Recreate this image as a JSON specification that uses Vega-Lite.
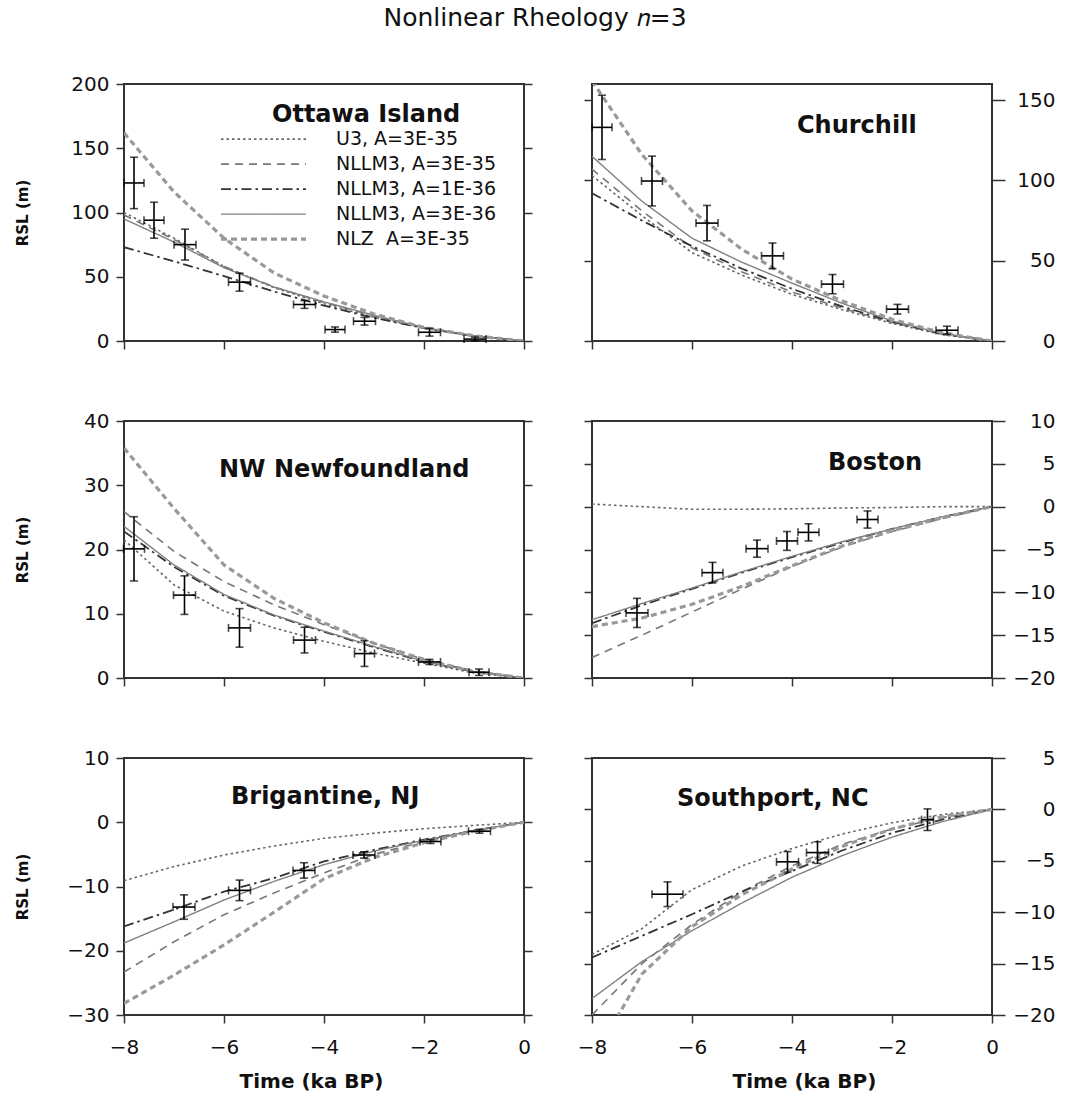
{
  "$schema": "https://vega.github.io/schema/vega-lite/v6.json",
  "padding": {"left": 14, "top": 6, "right": 17, "bottom": 4},
  "background": "white",
  "title": {"text": "Nonlinear Rheology \ud835\udc5b=3", "fontSize": 25, "font": "DejaVu Sans", "fontWeight": "normal", "anchor": "middle", "offset": 22, "baseline": "alphabetic", "color": "#111"},
  "columns": 2,
  "bounds": "flush",
  "spacing": {"row": 80, "column": 68},
  "resolve": {"scale": {"color": "independent", "strokeDash": "independent", "strokeWidth": "independent"}},
  "config": {
    "view": {"stroke": "#333", "strokeWidth": 2},
    "axis": {"domain": false, "grid": false, "tickColor": "#333", "tickWidth": 1.5, "labelColor": "#111", "titleColor": "#111", "labelFont": "DejaVu Sans", "titleFont": "DejaVu Sans"},
    "axisX": {"labelFlush": false, "labelFontSize": 20, "labelPadding": 14, "titleFontSize": 20, "titleFontWeight": "bold", "titlePadding": 14, "tickSize": 8},
    "axisLeft": {"labelFontSize": 20, "labelPadding": 7, "tickSize": 8, "minExtent": 60, "maxExtent": 60},
    "axisRight": {"labelFontSize": 20, "labelAlign": "right", "labelPadding": 50, "tickSize": 13}
  },
  "datasets": {
    "lines": [
      {"site":"O","model":"U3","t":-8,"rsl":100},{"site":"O","model":"U3","t":-7,"rsl":80},{"site":"O","model":"U3","t":-6,"rsl":58},{"site":"O","model":"U3","t":-5,"rsl":41.5},{"site":"O","model":"U3","t":-4,"rsl":29},{"site":"O","model":"U3","t":-3,"rsl":18.5},{"site":"O","model":"U3","t":-2,"rsl":10},{"site":"O","model":"U3","t":-1,"rsl":3.8},{"site":"O","model":"U3","t":0,"rsl":0},
      {"site":"O","model":"NL35","t":-8,"rsl":98},{"site":"O","model":"NL35","t":-7,"rsl":79},{"site":"O","model":"NL35","t":-6,"rsl":58},{"site":"O","model":"NL35","t":-5,"rsl":42},{"site":"O","model":"NL35","t":-4,"rsl":30},{"site":"O","model":"NL35","t":-3,"rsl":19.5},{"site":"O","model":"NL35","t":-2,"rsl":10.5},{"site":"O","model":"NL35","t":-1,"rsl":4},{"site":"O","model":"NL35","t":0,"rsl":0},
      {"site":"O","model":"NL136","t":-8,"rsl":73},{"site":"O","model":"NL136","t":-7,"rsl":62},{"site":"O","model":"NL136","t":-6,"rsl":50.5},{"site":"O","model":"NL136","t":-5,"rsl":38.5},{"site":"O","model":"NL136","t":-4,"rsl":27.5},{"site":"O","model":"NL136","t":-3,"rsl":18},{"site":"O","model":"NL136","t":-2,"rsl":10},{"site":"O","model":"NL136","t":-1,"rsl":3.8},{"site":"O","model":"NL136","t":0,"rsl":0},
      {"site":"O","model":"NL336","t":-8,"rsl":95},{"site":"O","model":"NL336","t":-7,"rsl":77},{"site":"O","model":"NL336","t":-6,"rsl":57},{"site":"O","model":"NL336","t":-5,"rsl":42},{"site":"O","model":"NL336","t":-4,"rsl":30.5},{"site":"O","model":"NL336","t":-3,"rsl":20},{"site":"O","model":"NL336","t":-2,"rsl":10.5},{"site":"O","model":"NL336","t":-1,"rsl":4},{"site":"O","model":"NL336","t":0,"rsl":0},
      {"site":"O","model":"NLZ","t":-8,"rsl":162},{"site":"O","model":"NLZ","t":-7,"rsl":116},{"site":"O","model":"NLZ","t":-6,"rsl":80},{"site":"O","model":"NLZ","t":-5,"rsl":53},{"site":"O","model":"NLZ","t":-4,"rsl":35},{"site":"O","model":"NLZ","t":-3,"rsl":21},{"site":"O","model":"NLZ","t":-2,"rsl":10.5},{"site":"O","model":"NLZ","t":-1,"rsl":4},{"site":"O","model":"NLZ","t":0,"rsl":0},

      {"site":"C","model":"U3","t":-8,"rsl":103},{"site":"C","model":"U3","t":-7,"rsl":78},{"site":"C","model":"U3","t":-6,"rsl":55},{"site":"C","model":"U3","t":-5,"rsl":41},{"site":"C","model":"U3","t":-4,"rsl":29},{"site":"C","model":"U3","t":-3,"rsl":19.5},{"site":"C","model":"U3","t":-2,"rsl":11},{"site":"C","model":"U3","t":-1,"rsl":4},{"site":"C","model":"U3","t":0,"rsl":0},
      {"site":"C","model":"NL35","t":-8,"rsl":107},{"site":"C","model":"NL35","t":-7,"rsl":81},{"site":"C","model":"NL35","t":-6,"rsl":58},{"site":"C","model":"NL35","t":-5,"rsl":43},{"site":"C","model":"NL35","t":-4,"rsl":30.5},{"site":"C","model":"NL35","t":-3,"rsl":20.5},{"site":"C","model":"NL35","t":-2,"rsl":11.5},{"site":"C","model":"NL35","t":-1,"rsl":4.3},{"site":"C","model":"NL35","t":0,"rsl":0},
      {"site":"C","model":"NL136","t":-8,"rsl":92},{"site":"C","model":"NL136","t":-7,"rsl":75},{"site":"C","model":"NL136","t":-6,"rsl":59},{"site":"C","model":"NL136","t":-5,"rsl":45},{"site":"C","model":"NL136","t":-4,"rsl":32.5},{"site":"C","model":"NL136","t":-3,"rsl":21.5},{"site":"C","model":"NL136","t":-2,"rsl":12},{"site":"C","model":"NL136","t":-1,"rsl":4.5},{"site":"C","model":"NL136","t":0,"rsl":0},
      {"site":"C","model":"NL336","t":-8,"rsl":115},{"site":"C","model":"NL336","t":-7,"rsl":87},{"site":"C","model":"NL336","t":-6,"rsl":64},{"site":"C","model":"NL336","t":-5,"rsl":49},{"site":"C","model":"NL336","t":-4,"rsl":36},{"site":"C","model":"NL336","t":-3,"rsl":23.5},{"site":"C","model":"NL336","t":-2,"rsl":12.5},{"site":"C","model":"NL336","t":-1,"rsl":4.8},{"site":"C","model":"NL336","t":0,"rsl":0},
      {"site":"C","model":"NLZ","t":-8,"rsl":162},{"site":"C","model":"NLZ","t":-7,"rsl":116},{"site":"C","model":"NLZ","t":-6,"rsl":81},{"site":"C","model":"NLZ","t":-5,"rsl":57},{"site":"C","model":"NLZ","t":-4,"rsl":38.5},{"site":"C","model":"NLZ","t":-3,"rsl":25},{"site":"C","model":"NLZ","t":-2,"rsl":13.5},{"site":"C","model":"NLZ","t":-1,"rsl":5.2},{"site":"C","model":"NLZ","t":0,"rsl":0},

      {"site":"N","model":"U3","t":-8,"rsl":21.5},{"site":"N","model":"U3","t":-7,"rsl":14.5},{"site":"N","model":"U3","t":-6,"rsl":10.4},{"site":"N","model":"U3","t":-5,"rsl":7.8},{"site":"N","model":"U3","t":-4,"rsl":5.7},{"site":"N","model":"U3","t":-3,"rsl":3.9},{"site":"N","model":"U3","t":-2,"rsl":2.3},{"site":"N","model":"U3","t":-1,"rsl":0.8},{"site":"N","model":"U3","t":0,"rsl":0},
      {"site":"N","model":"NL35","t":-8,"rsl":25.9},{"site":"N","model":"NL35","t":-7,"rsl":19.7},{"site":"N","model":"NL35","t":-6,"rsl":15},{"site":"N","model":"NL35","t":-5,"rsl":11.4},{"site":"N","model":"NL35","t":-4,"rsl":8.3},{"site":"N","model":"NL35","t":-3,"rsl":5.4},{"site":"N","model":"NL35","t":-2,"rsl":2.9},{"site":"N","model":"NL35","t":-1,"rsl":1.1},{"site":"N","model":"NL35","t":0,"rsl":0},
      {"site":"N","model":"NL136","t":-8,"rsl":22.8},{"site":"N","model":"NL136","t":-7,"rsl":17.3},{"site":"N","model":"NL136","t":-6,"rsl":12.8},{"site":"N","model":"NL136","t":-5,"rsl":9.7},{"site":"N","model":"NL136","t":-4,"rsl":7.2},{"site":"N","model":"NL136","t":-3,"rsl":4.8},{"site":"N","model":"NL136","t":-2,"rsl":2.5},{"site":"N","model":"NL136","t":-1,"rsl":1},{"site":"N","model":"NL136","t":0,"rsl":0},
      {"site":"N","model":"NL336","t":-8,"rsl":23.6},{"site":"N","model":"NL336","t":-7,"rsl":17.6},{"site":"N","model":"NL336","t":-6,"rsl":13},{"site":"N","model":"NL336","t":-5,"rsl":9.8},{"site":"N","model":"NL336","t":-4,"rsl":7.3},{"site":"N","model":"NL336","t":-3,"rsl":4.9},{"site":"N","model":"NL336","t":-2,"rsl":2.6},{"site":"N","model":"NL336","t":-1,"rsl":1},{"site":"N","model":"NL336","t":0,"rsl":0},
      {"site":"N","model":"NLZ","t":-8,"rsl":35.8},{"site":"N","model":"NLZ","t":-7,"rsl":26.4},{"site":"N","model":"NLZ","t":-6,"rsl":17.6},{"site":"N","model":"NLZ","t":-5,"rsl":12.4},{"site":"N","model":"NLZ","t":-4,"rsl":8.6},{"site":"N","model":"NLZ","t":-3,"rsl":5.4},{"site":"N","model":"NLZ","t":-2,"rsl":2.9},{"site":"N","model":"NLZ","t":-1,"rsl":1},{"site":"N","model":"NLZ","t":0,"rsl":0},

      {"site":"B","model":"U3","t":-8,"rsl":0.3},{"site":"B","model":"U3","t":-7,"rsl":0},{"site":"B","model":"U3","t":-6,"rsl":-0.3},{"site":"B","model":"U3","t":-5,"rsl":-0.3},{"site":"B","model":"U3","t":-4,"rsl":-0.25},{"site":"B","model":"U3","t":-3,"rsl":-0.15},{"site":"B","model":"U3","t":-2,"rsl":-0.1},{"site":"B","model":"U3","t":-1,"rsl":0},{"site":"B","model":"U3","t":0,"rsl":0},
      {"site":"B","model":"NL35","t":-8,"rsl":-17.6},{"site":"B","model":"NL35","t":-7,"rsl":-15},{"site":"B","model":"NL35","t":-6,"rsl":-12.3},{"site":"B","model":"NL35","t":-5,"rsl":-9.6},{"site":"B","model":"NL35","t":-4,"rsl":-7},{"site":"B","model":"NL35","t":-3,"rsl":-4.7},{"site":"B","model":"NL35","t":-2,"rsl":-2.9},{"site":"B","model":"NL35","t":-1,"rsl":-1.4},{"site":"B","model":"NL35","t":0,"rsl":0},
      {"site":"B","model":"NL136","t":-8,"rsl":-13.6},{"site":"B","model":"NL136","t":-7,"rsl":-11.5},{"site":"B","model":"NL136","t":-6,"rsl":-9.6},{"site":"B","model":"NL136","t":-5,"rsl":-7.7},{"site":"B","model":"NL136","t":-4,"rsl":-5.9},{"site":"B","model":"NL136","t":-3,"rsl":-4.2},{"site":"B","model":"NL136","t":-2,"rsl":-2.6},{"site":"B","model":"NL136","t":-1,"rsl":-1.2},{"site":"B","model":"NL136","t":0,"rsl":0},
      {"site":"B","model":"NL336","t":-8,"rsl":-13.2},{"site":"B","model":"NL336","t":-7,"rsl":-11.3},{"site":"B","model":"NL336","t":-6,"rsl":-9.5},{"site":"B","model":"NL336","t":-5,"rsl":-7.6},{"site":"B","model":"NL336","t":-4,"rsl":-5.8},{"site":"B","model":"NL336","t":-3,"rsl":-4.1},{"site":"B","model":"NL336","t":-2,"rsl":-2.6},{"site":"B","model":"NL336","t":-1,"rsl":-1.2},{"site":"B","model":"NL336","t":0,"rsl":0},
      {"site":"B","model":"NLZ","t":-8,"rsl":-14},{"site":"B","model":"NLZ","t":-7,"rsl":-13},{"site":"B","model":"NLZ","t":-6,"rsl":-11.4},{"site":"B","model":"NLZ","t":-5,"rsl":-9.3},{"site":"B","model":"NLZ","t":-4,"rsl":-6.9},{"site":"B","model":"NLZ","t":-3,"rsl":-4.6},{"site":"B","model":"NLZ","t":-2,"rsl":-2.8},{"site":"B","model":"NLZ","t":-1,"rsl":-1.3},{"site":"B","model":"NLZ","t":0,"rsl":0},

      {"site":"R","model":"U3","t":-8,"rsl":-9.1},{"site":"R","model":"U3","t":-7,"rsl":-6.9},{"site":"R","model":"U3","t":-6,"rsl":-5.1},{"site":"R","model":"U3","t":-5,"rsl":-3.7},{"site":"R","model":"U3","t":-4,"rsl":-2.5},{"site":"R","model":"U3","t":-3,"rsl":-1.7},{"site":"R","model":"U3","t":-2,"rsl":-1},{"site":"R","model":"U3","t":-1,"rsl":-0.5},{"site":"R","model":"U3","t":0,"rsl":0},
      {"site":"R","model":"NL35","t":-8,"rsl":-23.3},{"site":"R","model":"NL35","t":-7,"rsl":-18.6},{"site":"R","model":"NL35","t":-6,"rsl":-14.4},{"site":"R","model":"NL35","t":-5,"rsl":-11},{"site":"R","model":"NL35","t":-4,"rsl":-7.9},{"site":"R","model":"NL35","t":-3,"rsl":-5},{"site":"R","model":"NL35","t":-2,"rsl":-3},{"site":"R","model":"NL35","t":-1,"rsl":-1.3},{"site":"R","model":"NL35","t":0,"rsl":0},
      {"site":"R","model":"NL136","t":-8,"rsl":-16.2},{"site":"R","model":"NL136","t":-7,"rsl":-13.6},{"site":"R","model":"NL136","t":-6,"rsl":-10.8},{"site":"R","model":"NL136","t":-5,"rsl":-8.7},{"site":"R","model":"NL136","t":-4,"rsl":-6.1},{"site":"R","model":"NL136","t":-3,"rsl":-4.3},{"site":"R","model":"NL136","t":-2,"rsl":-2.7},{"site":"R","model":"NL136","t":-1,"rsl":-1.3},{"site":"R","model":"NL136","t":0,"rsl":0},
      {"site":"R","model":"NL336","t":-8,"rsl":-18.8},{"site":"R","model":"NL336","t":-7,"rsl":-15.5},{"site":"R","model":"NL336","t":-6,"rsl":-12.1},{"site":"R","model":"NL336","t":-5,"rsl":-9.2},{"site":"R","model":"NL336","t":-4,"rsl":-6.6},{"site":"R","model":"NL336","t":-3,"rsl":-4.5},{"site":"R","model":"NL336","t":-2,"rsl":-2.8},{"site":"R","model":"NL336","t":-1,"rsl":-1.3},{"site":"R","model":"NL336","t":0,"rsl":0},
      {"site":"R","model":"NLZ","t":-8,"rsl":-28.2},{"site":"R","model":"NLZ","t":-7,"rsl":-23.8},{"site":"R","model":"NLZ","t":-6,"rsl":-19.1},{"site":"R","model":"NLZ","t":-5,"rsl":-14},{"site":"R","model":"NLZ","t":-4,"rsl":-8.8},{"site":"R","model":"NLZ","t":-3,"rsl":-5.5},{"site":"R","model":"NLZ","t":-2,"rsl":-3.2},{"site":"R","model":"NLZ","t":-1,"rsl":-1.4},{"site":"R","model":"NLZ","t":0,"rsl":0},

      {"site":"S","model":"U3","t":-8,"rsl":-14.1},{"site":"S","model":"U3","t":-7,"rsl":-11.6},{"site":"S","model":"U3","t":-6,"rsl":-7.8},{"site":"S","model":"U3","t":-5,"rsl":-5.5},{"site":"S","model":"U3","t":-4,"rsl":-3.8},{"site":"S","model":"U3","t":-3,"rsl":-2.4},{"site":"S","model":"U3","t":-2,"rsl":-1.3},{"site":"S","model":"U3","t":-1,"rsl":-0.5},{"site":"S","model":"U3","t":0,"rsl":0},
      {"site":"S","model":"NL35","t":-8,"rsl":-20},{"site":"S","model":"NL35","t":-7,"rsl":-15},{"site":"S","model":"NL35","t":-6,"rsl":-11.2},{"site":"S","model":"NL35","t":-5,"rsl":-8},{"site":"S","model":"NL35","t":-4,"rsl":-5.5},{"site":"S","model":"NL35","t":-3,"rsl":-3.4},{"site":"S","model":"NL35","t":-2,"rsl":-1.9},{"site":"S","model":"NL35","t":-1,"rsl":-0.8},{"site":"S","model":"NL35","t":0,"rsl":0},
      {"site":"S","model":"NL136","t":-8,"rsl":-14.4},{"site":"S","model":"NL136","t":-7,"rsl":-12.3},{"site":"S","model":"NL136","t":-6,"rsl":-10.2},{"site":"S","model":"NL136","t":-5,"rsl":-8},{"site":"S","model":"NL136","t":-4,"rsl":-6},{"site":"S","model":"NL136","t":-3,"rsl":-4},{"site":"S","model":"NL136","t":-2,"rsl":-2.3},{"site":"S","model":"NL136","t":-1,"rsl":-1},{"site":"S","model":"NL136","t":0,"rsl":0},
      {"site":"S","model":"NL336","t":-8,"rsl":-18.4},{"site":"S","model":"NL336","t":-7,"rsl":-14.8},{"site":"S","model":"NL336","t":-6,"rsl":-11.8},{"site":"S","model":"NL336","t":-5,"rsl":-9.1},{"site":"S","model":"NL336","t":-4,"rsl":-6.6},{"site":"S","model":"NL336","t":-3,"rsl":-4.5},{"site":"S","model":"NL336","t":-2,"rsl":-2.7},{"site":"S","model":"NL336","t":-1,"rsl":-1.2},{"site":"S","model":"NL336","t":0,"rsl":0},
      {"site":"S","model":"NLZ","t":-8,"rsl":-24.5},{"site":"S","model":"NLZ","t":-7,"rsl":-16},{"site":"S","model":"NLZ","t":-6,"rsl":-11.4},{"site":"S","model":"NLZ","t":-5,"rsl":-8.3},{"site":"S","model":"NLZ","t":-4,"rsl":-5.8},{"site":"S","model":"NLZ","t":-3,"rsl":-3.6},{"site":"S","model":"NLZ","t":-2,"rsl":-1.9},{"site":"S","model":"NLZ","t":-1,"rsl":-0.7},{"site":"S","model":"NLZ","t":0,"rsl":0}
    ],
    "obs": [
      {"site":"O","t":-7.8,"rsl":123,"terr":0.2,"rerr":20},{"site":"O","t":-7.4,"rsl":94,"terr":0.2,"rerr":14},{"site":"O","t":-6.78,"rsl":75,"terr":0.22,"rerr":12},{"site":"O","t":-5.69,"rsl":45.8,"terr":0.22,"rerr":7},{"site":"O","t":-4.39,"rsl":28.4,"terr":0.22,"rerr":3},{"site":"O","t":-3.78,"rsl":8.9,"terr":0.2,"rerr":2},{"site":"O","t":-3.19,"rsl":15.4,"terr":0.22,"rerr":3},{"site":"O","t":-1.89,"rsl":6.8,"terr":0.22,"rerr":3},{"site":"O","t":-0.98,"rsl":1.5,"terr":0.22,"rerr":1.5},
      {"site":"C","t":-7.8,"rsl":133,"terr":0.2,"rerr":20},{"site":"C","t":-6.8,"rsl":99.6,"terr":0.21,"rerr":15.5},{"site":"C","t":-5.7,"rsl":73.4,"terr":0.22,"rerr":11},{"site":"C","t":-4.39,"rsl":53,"terr":0.22,"rerr":8},{"site":"C","t":-3.19,"rsl":35.4,"terr":0.22,"rerr":6},{"site":"C","t":-1.89,"rsl":19.8,"terr":0.22,"rerr":3},{"site":"C","t":-0.9,"rsl":6.7,"terr":0.22,"rerr":2.5},
      {"site":"N","t":-7.8,"rsl":20.1,"terr":0.21,"rerr":5},{"site":"N","t":-6.79,"rsl":12.9,"terr":0.22,"rerr":3},{"site":"N","t":-5.69,"rsl":7.8,"terr":0.22,"rerr":3},{"site":"N","t":-4.39,"rsl":5.9,"terr":0.22,"rerr":2},{"site":"N","t":-3.19,"rsl":3.8,"terr":0.2,"rerr":2},{"site":"N","t":-1.89,"rsl":2.5,"terr":0.22,"rerr":0.4},{"site":"N","t":-0.9,"rsl":0.9,"terr":0.2,"rerr":0.5},
      {"site":"B","t":-7.1,"rsl":-12.4,"terr":0.22,"rerr":1.7},{"site":"B","t":-5.59,"rsl":-7.7,"terr":0.21,"rerr":1.2},{"site":"B","t":-4.7,"rsl":-4.9,"terr":0.22,"rerr":1},{"site":"B","t":-4.1,"rsl":-4,"terr":0.21,"rerr":1.1},{"site":"B","t":-3.67,"rsl":-3,"terr":0.21,"rerr":1},{"site":"B","t":-2.49,"rsl":-1.5,"terr":0.21,"rerr":1},
      {"site":"R","t":-6.8,"rsl":-13.2,"terr":0.22,"rerr":1.9},{"site":"R","t":-5.69,"rsl":-10.6,"terr":0.22,"rerr":1.6},{"site":"R","t":-4.4,"rsl":-7.5,"terr":0.22,"rerr":1.2},{"site":"R","t":-3.2,"rsl":-5.1,"terr":0.22,"rerr":0.5},{"site":"R","t":-1.87,"rsl":-3,"terr":0.21,"rerr":0.3},{"site":"R","t":-0.89,"rsl":-1.4,"terr":0.22,"rerr":0.3},
      {"site":"S","t":-6.49,"rsl":-8.25,"terr":0.31,"rerr":1.2},{"site":"S","t":-4.09,"rsl":-5.1,"terr":0.22,"rerr":1},{"site":"S","t":-3.49,"rsl":-4.2,"terr":0.22,"rerr":1.05},{"site":"S","t":-1.29,"rsl":-1,"terr":0.12,"rerr":1.05}
    ]
  },
  "concat": [
    {
      "width": 400, "height": 257,
      "title": {"text": "Ottawa Island", "frame": "group", "anchor": "start", "dx": 148, "dy": 72, "offset": 0, "baseline": "alphabetic", "fontSize": 24, "fontWeight": "bold", "font": "DejaVu Sans", "color": "#111"},
      "resolve": {"axis": {"y": "independent"}},
      "layer": [
        {
          "data": {"name": "lines"},
          "transform": [{"filter": "datum.site === 'O'"}],
          "mark": {"type": "line", "clip": true},
          "encoding": {
            "x": {"field": "t", "type": "quantitative", "scale": {"domain": [-8, 0], "nice": false, "zero": false}, "axis": {"values": [-8, -6, -4, -2, 0], "labels": false, "title": null}},
            "y": {"field": "rsl", "type": "quantitative", "scale": {"domain": [0, 200], "nice": false, "zero": false}, "axis": {"orient": "left", "values": [0, 50, 100, 150, 200], "title": "RSL (m)", "titleFontSize": 15, "titleFontWeight": "bold", "titlePadding": 34}},
            "color": {"field": "model", "type": "nominal", "scale": {"domain": ["U3", "NL35", "NL136", "NL336", "NLZ"], "range": ["#666666", "#777777", "#333333", "#808080", "#999999"]},
              "legend": {"orient": "none", "legendX": 95, "legendY": 43, "title": null, "symbolType": "stroke", "symbolSize": 7225, "clipHeight": 24.3, "rowPadding": 0, "padding": 0, "labelFontSize": 19, "labelFont": "DejaVu Sans", "labelColor": "#111", "labelOffset": 28, "labelLimit": 0,
                "labelExpr": "datum.value == 'U3' ? 'U3, A=3E-35' : datum.value == 'NL35' ? 'NLLM3, A=3E-35' : datum.value == 'NL136' ? 'NLLM3, A=1E-36' : datum.value == 'NL336' ? 'NLLM3, A=3E-36' : 'NLZ\u00a0 A=3E-35'"}},
            "strokeDash": {"field": "model", "type": "nominal", "scale": {"domain": ["U3", "NL35", "NL136", "NL336", "NLZ"], "range": [[2.5, 3], [8, 6], [10, 4, 2.5, 4], [1, 0], [6, 4]]},
              "legend": {"orient": "none", "legendX": 95, "legendY": 43, "title": null, "symbolType": "stroke", "symbolSize": 7225, "clipHeight": 24.3, "rowPadding": 0, "padding": 0, "labelFontSize": 19, "labelFont": "DejaVu Sans", "labelColor": "#111", "labelOffset": 28, "labelLimit": 0,
                "labelExpr": "datum.value == 'U3' ? 'U3, A=3E-35' : datum.value == 'NL35' ? 'NLLM3, A=3E-35' : datum.value == 'NL136' ? 'NLLM3, A=1E-36' : datum.value == 'NL336' ? 'NLLM3, A=3E-36' : 'NLZ\u00a0 A=3E-35'"}},
            "strokeWidth": {"field": "model", "type": "nominal", "scale": {"type": "ordinal", "domain": ["U3", "NL35", "NL136", "NL336", "NLZ"], "range": [1.6, 1.6, 1.8, 1.4, 3.2]},
              "legend": {"orient": "none", "legendX": 95, "legendY": 43, "title": null, "symbolType": "stroke", "symbolSize": 7225, "clipHeight": 24.3, "rowPadding": 0, "padding": 0, "labelFontSize": 19, "labelFont": "DejaVu Sans", "labelColor": "#111", "labelOffset": 28, "labelLimit": 0,
                "labelExpr": "datum.value == 'U3' ? 'U3, A=3E-35' : datum.value == 'NL35' ? 'NLLM3, A=3E-35' : datum.value == 'NL136' ? 'NLLM3, A=1E-36' : datum.value == 'NL336' ? 'NLLM3, A=3E-36' : 'NLZ\u00a0 A=3E-35'"}}
          }
        },
        {
          "data": {"name": "obs"},
          "transform": [{"filter": "datum.site === 'O'"}],
          "mark": {"type": "errorbar", "color": "#000", "thickness": 1.6, "ticks": {"size": 8, "thickness": 1.6, "color": "#000"}},
          "encoding": {
            "x": {"field": "t", "type": "quantitative", "scale": {"domain": [-8, 0], "nice": false, "zero": false}, "axis": {"values": [-8, -6, -4, -2, 0], "labels": false, "title": null}},
            "y": {"field": "rsl", "type": "quantitative", "scale": {"domain": [0, 200], "nice": false, "zero": false}, "axis": null},
            "yError": {"field": "rerr"}
          }
        },
        {
          "data": {"name": "obs"},
          "transform": [{"filter": "datum.site === 'O'"}],
          "mark": {"type": "errorbar", "color": "#000", "thickness": 1.6, "ticks": {"size": 8, "thickness": 1.6, "color": "#000"}},
          "encoding": {
            "x": {"field": "t", "type": "quantitative", "scale": {"domain": [-8, 0], "nice": false, "zero": false}, "axis": {"values": [-8, -6, -4, -2, 0], "labels": false, "title": null}},
            "xError": {"field": "terr"},
            "y": {"field": "rsl", "type": "quantitative", "scale": {"domain": [0, 200], "nice": false, "zero": false}, "axis": null}
          }
        },
        {
          "data": {"values": [{}]},
          "mark": {"type": "rule", "strokeOpacity": 0},
          "encoding": {
            "y": {"datum": 0, "type": "quantitative", "scale": {"domain": [0, 200], "nice": false, "zero": false}, "axis": {"orient": "right", "values": [0, 50, 100, 150, 200], "labels": false, "title": null, "tickSize": 8}}
          }
        }
      ]
    },
    {
      "width": 400, "height": 257,
      "title": {"text": "Churchill", "frame": "group", "anchor": "start", "dx": 205, "dy": 73, "offset": 0, "baseline": "alphabetic", "fontSize": 24, "fontWeight": "bold", "font": "DejaVu Sans", "color": "#111"},
      "resolve": {"axis": {"y": "independent"}},
      "layer": [
        {
          "data": {"name": "lines"},
          "transform": [{"filter": "datum.site === 'C'"}],
          "mark": {"type": "line", "clip": true},
          "encoding": {
            "x": {"field": "t", "type": "quantitative", "scale": {"domain": [-8, 0], "nice": false, "zero": false}, "axis": {"values": [-8, -6, -4, -2, 0], "labels": false, "title": null}},
            "y": {"field": "rsl", "type": "quantitative", "scale": {"domain": [0, 160], "nice": false, "zero": false}, "axis": {"orient": "right", "values": [0, 50, 100, 150], "title": null}},
            "color": {"field": "model", "type": "nominal", "scale": {"domain": ["U3", "NL35", "NL136", "NL336", "NLZ"], "range": ["#666666", "#777777", "#333333", "#808080", "#999999"]}, "legend": null},
            "strokeDash": {"field": "model", "type": "nominal", "scale": {"domain": ["U3", "NL35", "NL136", "NL336", "NLZ"], "range": [[2.5, 3], [8, 6], [10, 4, 2.5, 4], [1, 0], [6, 4]]}, "legend": null},
            "strokeWidth": {"field": "model", "type": "nominal", "scale": {"type": "ordinal", "domain": ["U3", "NL35", "NL136", "NL336", "NLZ"], "range": [1.6, 1.6, 1.8, 1.4, 3.2]}, "legend": null}
          }
        },
        {
          "data": {"name": "obs"},
          "transform": [{"filter": "datum.site === 'C'"}],
          "mark": {"type": "errorbar", "color": "#000", "thickness": 1.6, "ticks": {"size": 8, "thickness": 1.6, "color": "#000"}},
          "encoding": {
            "x": {"field": "t", "type": "quantitative", "scale": {"domain": [-8, 0], "nice": false, "zero": false}, "axis": {"values": [-8, -6, -4, -2, 0], "labels": false, "title": null}},
            "y": {"field": "rsl", "type": "quantitative", "scale": {"domain": [0, 160], "nice": false, "zero": false}, "axis": null},
            "yError": {"field": "rerr"}
          }
        },
        {
          "data": {"name": "obs"},
          "transform": [{"filter": "datum.site === 'C'"}],
          "mark": {"type": "errorbar", "color": "#000", "thickness": 1.6, "ticks": {"size": 8, "thickness": 1.6, "color": "#000"}},
          "encoding": {
            "x": {"field": "t", "type": "quantitative", "scale": {"domain": [-8, 0], "nice": false, "zero": false}, "axis": {"values": [-8, -6, -4, -2, 0], "labels": false, "title": null}},
            "xError": {"field": "terr"},
            "y": {"field": "rsl", "type": "quantitative", "scale": {"domain": [0, 160], "nice": false, "zero": false}, "axis": null}
          }
        },
        {
          "data": {"values": [{}]},
          "mark": {"type": "rule", "strokeOpacity": 0},
          "encoding": {
            "y": {"datum": 0, "type": "quantitative", "scale": {"domain": [0, 160], "nice": false, "zero": false}, "axis": {"orient": "left", "values": [0, 50, 100, 150], "labels": false, "title": null, "tickSize": 8}}
          }
        }
      ]
    },
    {
      "width": 400, "height": 257,
      "title": {"text": "NW Newfoundland", "frame": "group", "anchor": "start", "dx": 95, "dy": 90, "offset": 0, "baseline": "alphabetic", "fontSize": 24, "fontWeight": "bold", "font": "DejaVu Sans", "color": "#111"},
      "resolve": {"axis": {"y": "independent"}},
      "layer": [
        {
          "data": {"name": "lines"},
          "transform": [{"filter": "datum.site === 'N'"}],
          "mark": {"type": "line", "clip": true},
          "encoding": {
            "x": {"field": "t", "type": "quantitative", "scale": {"domain": [-8, 0], "nice": false, "zero": false}, "axis": {"values": [-8, -6, -4, -2, 0], "labels": false, "title": null}},
            "y": {"field": "rsl", "type": "quantitative", "scale": {"domain": [0, 40], "nice": false, "zero": false}, "axis": {"orient": "left", "values": [0, 10, 20, 30, 40], "title": "RSL (m)", "titleFontSize": 15, "titleFontWeight": "bold", "titlePadding": 34}},
            "color": {"field": "model", "type": "nominal", "scale": {"domain": ["U3", "NL35", "NL136", "NL336", "NLZ"], "range": ["#666666", "#777777", "#333333", "#808080", "#999999"]}, "legend": null},
            "strokeDash": {"field": "model", "type": "nominal", "scale": {"domain": ["U3", "NL35", "NL136", "NL336", "NLZ"], "range": [[2.5, 3], [8, 6], [10, 4, 2.5, 4], [1, 0], [6, 4]]}, "legend": null},
            "strokeWidth": {"field": "model", "type": "nominal", "scale": {"type": "ordinal", "domain": ["U3", "NL35", "NL136", "NL336", "NLZ"], "range": [1.6, 1.6, 1.8, 1.4, 3.2]}, "legend": null}
          }
        },
        {
          "data": {"name": "obs"},
          "transform": [{"filter": "datum.site === 'N'"}],
          "mark": {"type": "errorbar", "color": "#000", "thickness": 1.6, "ticks": {"size": 8, "thickness": 1.6, "color": "#000"}},
          "encoding": {
            "x": {"field": "t", "type": "quantitative", "scale": {"domain": [-8, 0], "nice": false, "zero": false}, "axis": {"values": [-8, -6, -4, -2, 0], "labels": false, "title": null}},
            "y": {"field": "rsl", "type": "quantitative", "scale": {"domain": [0, 40], "nice": false, "zero": false}, "axis": null},
            "yError": {"field": "rerr"}
          }
        },
        {
          "data": {"name": "obs"},
          "transform": [{"filter": "datum.site === 'N'"}],
          "mark": {"type": "errorbar", "color": "#000", "thickness": 1.6, "ticks": {"size": 8, "thickness": 1.6, "color": "#000"}},
          "encoding": {
            "x": {"field": "t", "type": "quantitative", "scale": {"domain": [-8, 0], "nice": false, "zero": false}, "axis": {"values": [-8, -6, -4, -2, 0], "labels": false, "title": null}},
            "xError": {"field": "terr"},
            "y": {"field": "rsl", "type": "quantitative", "scale": {"domain": [0, 40], "nice": false, "zero": false}, "axis": null}
          }
        },
        {
          "data": {"values": [{}]},
          "mark": {"type": "rule", "strokeOpacity": 0},
          "encoding": {
            "y": {"datum": 0, "type": "quantitative", "scale": {"domain": [0, 40], "nice": false, "zero": false}, "axis": {"orient": "right", "values": [0, 10, 20, 30, 40], "labels": false, "title": null, "tickSize": 8}}
          }
        }
      ]
    },
    {
      "width": 400, "height": 257,
      "title": {"text": "Boston", "frame": "group", "anchor": "start", "dx": 236, "dy": 83, "offset": 0, "baseline": "alphabetic", "fontSize": 24, "fontWeight": "bold", "font": "DejaVu Sans", "color": "#111"},
      "resolve": {"axis": {"y": "independent"}},
      "layer": [
        {
          "data": {"name": "lines"},
          "transform": [{"filter": "datum.site === 'B'"}],
          "mark": {"type": "line", "clip": true},
          "encoding": {
            "x": {"field": "t", "type": "quantitative", "scale": {"domain": [-8, 0], "nice": false, "zero": false}, "axis": {"values": [-8, -6, -4, -2, 0], "labels": false, "title": null}},
            "y": {"field": "rsl", "type": "quantitative", "scale": {"domain": [-20, 10], "nice": false, "zero": false}, "axis": {"orient": "right", "values": [-20, -15, -10, -5, 0, 5, 10], "title": null}},
            "color": {"field": "model", "type": "nominal", "scale": {"domain": ["U3", "NL35", "NL136", "NL336", "NLZ"], "range": ["#666666", "#777777", "#333333", "#808080", "#999999"]}, "legend": null},
            "strokeDash": {"field": "model", "type": "nominal", "scale": {"domain": ["U3", "NL35", "NL136", "NL336", "NLZ"], "range": [[2.5, 3], [8, 6], [10, 4, 2.5, 4], [1, 0], [6, 4]]}, "legend": null},
            "strokeWidth": {"field": "model", "type": "nominal", "scale": {"type": "ordinal", "domain": ["U3", "NL35", "NL136", "NL336", "NLZ"], "range": [1.6, 1.6, 1.8, 1.4, 3.2]}, "legend": null}
          }
        },
        {
          "data": {"name": "obs"},
          "transform": [{"filter": "datum.site === 'B'"}],
          "mark": {"type": "errorbar", "color": "#000", "thickness": 1.6, "ticks": {"size": 8, "thickness": 1.6, "color": "#000"}},
          "encoding": {
            "x": {"field": "t", "type": "quantitative", "scale": {"domain": [-8, 0], "nice": false, "zero": false}, "axis": {"values": [-8, -6, -4, -2, 0], "labels": false, "title": null}},
            "y": {"field": "rsl", "type": "quantitative", "scale": {"domain": [-20, 10], "nice": false, "zero": false}, "axis": null},
            "yError": {"field": "rerr"}
          }
        },
        {
          "data": {"name": "obs"},
          "transform": [{"filter": "datum.site === 'B'"}],
          "mark": {"type": "errorbar", "color": "#000", "thickness": 1.6, "ticks": {"size": 8, "thickness": 1.6, "color": "#000"}},
          "encoding": {
            "x": {"field": "t", "type": "quantitative", "scale": {"domain": [-8, 0], "nice": false, "zero": false}, "axis": {"values": [-8, -6, -4, -2, 0], "labels": false, "title": null}},
            "xError": {"field": "terr"},
            "y": {"field": "rsl", "type": "quantitative", "scale": {"domain": [-20, 10], "nice": false, "zero": false}, "axis": null}
          }
        },
        {
          "data": {"values": [{}]},
          "mark": {"type": "rule", "strokeOpacity": 0},
          "encoding": {
            "y": {"datum": 0, "type": "quantitative", "scale": {"domain": [-20, 10], "nice": false, "zero": false}, "axis": {"orient": "left", "values": [-20, -15, -10, -5, 0, 5, 10], "labels": false, "title": null, "tickSize": 8}}
          }
        }
      ]
    },
    {
      "width": 400, "height": 257,
      "title": {"text": "Brigantine, NJ", "frame": "group", "anchor": "start", "dx": 107, "dy": 80, "offset": 0, "baseline": "alphabetic", "fontSize": 24, "fontWeight": "bold", "font": "DejaVu Sans", "color": "#111"},
      "resolve": {"axis": {"y": "independent"}},
      "layer": [
        {
          "data": {"name": "lines"},
          "transform": [{"filter": "datum.site === 'R'"}],
          "mark": {"type": "line", "clip": true},
          "encoding": {
            "x": {"field": "t", "type": "quantitative", "scale": {"domain": [-8, 0], "nice": false, "zero": false}, "axis": {"values": [-8, -6, -4, -2, 0], "title": "Time (ka BP)", "titleX": 187}},
            "y": {"field": "rsl", "type": "quantitative", "scale": {"domain": [-30, 10], "nice": false, "zero": false}, "axis": {"orient": "left", "values": [-30, -20, -10, 0, 10], "title": "RSL (m)", "titleFontSize": 15, "titleFontWeight": "bold", "titlePadding": 34}},
            "color": {"field": "model", "type": "nominal", "scale": {"domain": ["U3", "NL35", "NL136", "NL336", "NLZ"], "range": ["#666666", "#777777", "#333333", "#808080", "#999999"]}, "legend": null},
            "strokeDash": {"field": "model", "type": "nominal", "scale": {"domain": ["U3", "NL35", "NL136", "NL336", "NLZ"], "range": [[2.5, 3], [8, 6], [10, 4, 2.5, 4], [1, 0], [6, 4]]}, "legend": null},
            "strokeWidth": {"field": "model", "type": "nominal", "scale": {"type": "ordinal", "domain": ["U3", "NL35", "NL136", "NL336", "NLZ"], "range": [1.6, 1.6, 1.8, 1.4, 3.2]}, "legend": null}
          }
        },
        {
          "data": {"name": "obs"},
          "transform": [{"filter": "datum.site === 'R'"}],
          "mark": {"type": "errorbar", "color": "#000", "thickness": 1.6, "ticks": {"size": 8, "thickness": 1.6, "color": "#000"}},
          "encoding": {
            "x": {"field": "t", "type": "quantitative", "scale": {"domain": [-8, 0], "nice": false, "zero": false}, "axis": {"values": [-8, -6, -4, -2, 0], "title": "Time (ka BP)", "titleX": 187}},
            "y": {"field": "rsl", "type": "quantitative", "scale": {"domain": [-30, 10], "nice": false, "zero": false}, "axis": null},
            "yError": {"field": "rerr"}
          }
        },
        {
          "data": {"name": "obs"},
          "transform": [{"filter": "datum.site === 'R'"}],
          "mark": {"type": "errorbar", "color": "#000", "thickness": 1.6, "ticks": {"size": 8, "thickness": 1.6, "color": "#000"}},
          "encoding": {
            "x": {"field": "t", "type": "quantitative", "scale": {"domain": [-8, 0], "nice": false, "zero": false}, "axis": {"values": [-8, -6, -4, -2, 0], "title": "Time (ka BP)", "titleX": 187}},
            "xError": {"field": "terr"},
            "y": {"field": "rsl", "type": "quantitative", "scale": {"domain": [-30, 10], "nice": false, "zero": false}, "axis": null}
          }
        },
        {
          "data": {"values": [{}]},
          "mark": {"type": "rule", "strokeOpacity": 0},
          "encoding": {
            "y": {"datum": 0, "type": "quantitative", "scale": {"domain": [-30, 10], "nice": false, "zero": false}, "axis": {"orient": "right", "values": [-30, -20, -10, 0, 10], "labels": false, "title": null, "tickSize": 8}}
          }
        }
      ]
    },
    {
      "width": 400, "height": 257,
      "title": {"text": "Southport, NC", "frame": "group", "anchor": "start", "dx": 85, "dy": 82, "offset": 0, "baseline": "alphabetic", "fontSize": 24, "fontWeight": "bold", "font": "DejaVu Sans", "color": "#111"},
      "resolve": {"axis": {"y": "independent"}},
      "layer": [
        {
          "data": {"name": "lines"},
          "transform": [{"filter": "datum.site === 'S'"}],
          "mark": {"type": "line", "clip": true},
          "encoding": {
            "x": {"field": "t", "type": "quantitative", "scale": {"domain": [-8, 0], "nice": false, "zero": false}, "axis": {"values": [-8, -6, -4, -2, 0], "title": "Time (ka BP)", "titleX": 212}},
            "y": {"field": "rsl", "type": "quantitative", "scale": {"domain": [-20, 5], "nice": false, "zero": false}, "axis": {"orient": "right", "values": [-20, -15, -10, -5, 0, 5], "title": null}},
            "color": {"field": "model", "type": "nominal", "scale": {"domain": ["U3", "NL35", "NL136", "NL336", "NLZ"], "range": ["#666666", "#777777", "#333333", "#808080", "#999999"]}, "legend": null},
            "strokeDash": {"field": "model", "type": "nominal", "scale": {"domain": ["U3", "NL35", "NL136", "NL336", "NLZ"], "range": [[2.5, 3], [8, 6], [10, 4, 2.5, 4], [1, 0], [6, 4]]}, "legend": null},
            "strokeWidth": {"field": "model", "type": "nominal", "scale": {"type": "ordinal", "domain": ["U3", "NL35", "NL136", "NL336", "NLZ"], "range": [1.6, 1.6, 1.8, 1.4, 3.2]}, "legend": null}
          }
        },
        {
          "data": {"name": "obs"},
          "transform": [{"filter": "datum.site === 'S'"}],
          "mark": {"type": "errorbar", "color": "#000", "thickness": 1.6, "ticks": {"size": 8, "thickness": 1.6, "color": "#000"}},
          "encoding": {
            "x": {"field": "t", "type": "quantitative", "scale": {"domain": [-8, 0], "nice": false, "zero": false}, "axis": {"values": [-8, -6, -4, -2, 0], "title": "Time (ka BP)", "titleX": 212}},
            "y": {"field": "rsl", "type": "quantitative", "scale": {"domain": [-20, 5], "nice": false, "zero": false}, "axis": null},
            "yError": {"field": "rerr"}
          }
        },
        {
          "data": {"name": "obs"},
          "transform": [{"filter": "datum.site === 'S'"}],
          "mark": {"type": "errorbar", "color": "#000", "thickness": 1.6, "ticks": {"size": 8, "thickness": 1.6, "color": "#000"}},
          "encoding": {
            "x": {"field": "t", "type": "quantitative", "scale": {"domain": [-8, 0], "nice": false, "zero": false}, "axis": {"values": [-8, -6, -4, -2, 0], "title": "Time (ka BP)", "titleX": 212}},
            "xError": {"field": "terr"},
            "y": {"field": "rsl", "type": "quantitative", "scale": {"domain": [-20, 5], "nice": false, "zero": false}, "axis": null}
          }
        },
        {
          "data": {"values": [{}]},
          "mark": {"type": "rule", "strokeOpacity": 0},
          "encoding": {
            "y": {"datum": 0, "type": "quantitative", "scale": {"domain": [-20, 5], "nice": false, "zero": false}, "axis": {"orient": "left", "values": [-20, -15, -10, -5, 0, 5], "labels": false, "title": null, "tickSize": 8}}
          }
        }
      ]
    }
  ]
}
